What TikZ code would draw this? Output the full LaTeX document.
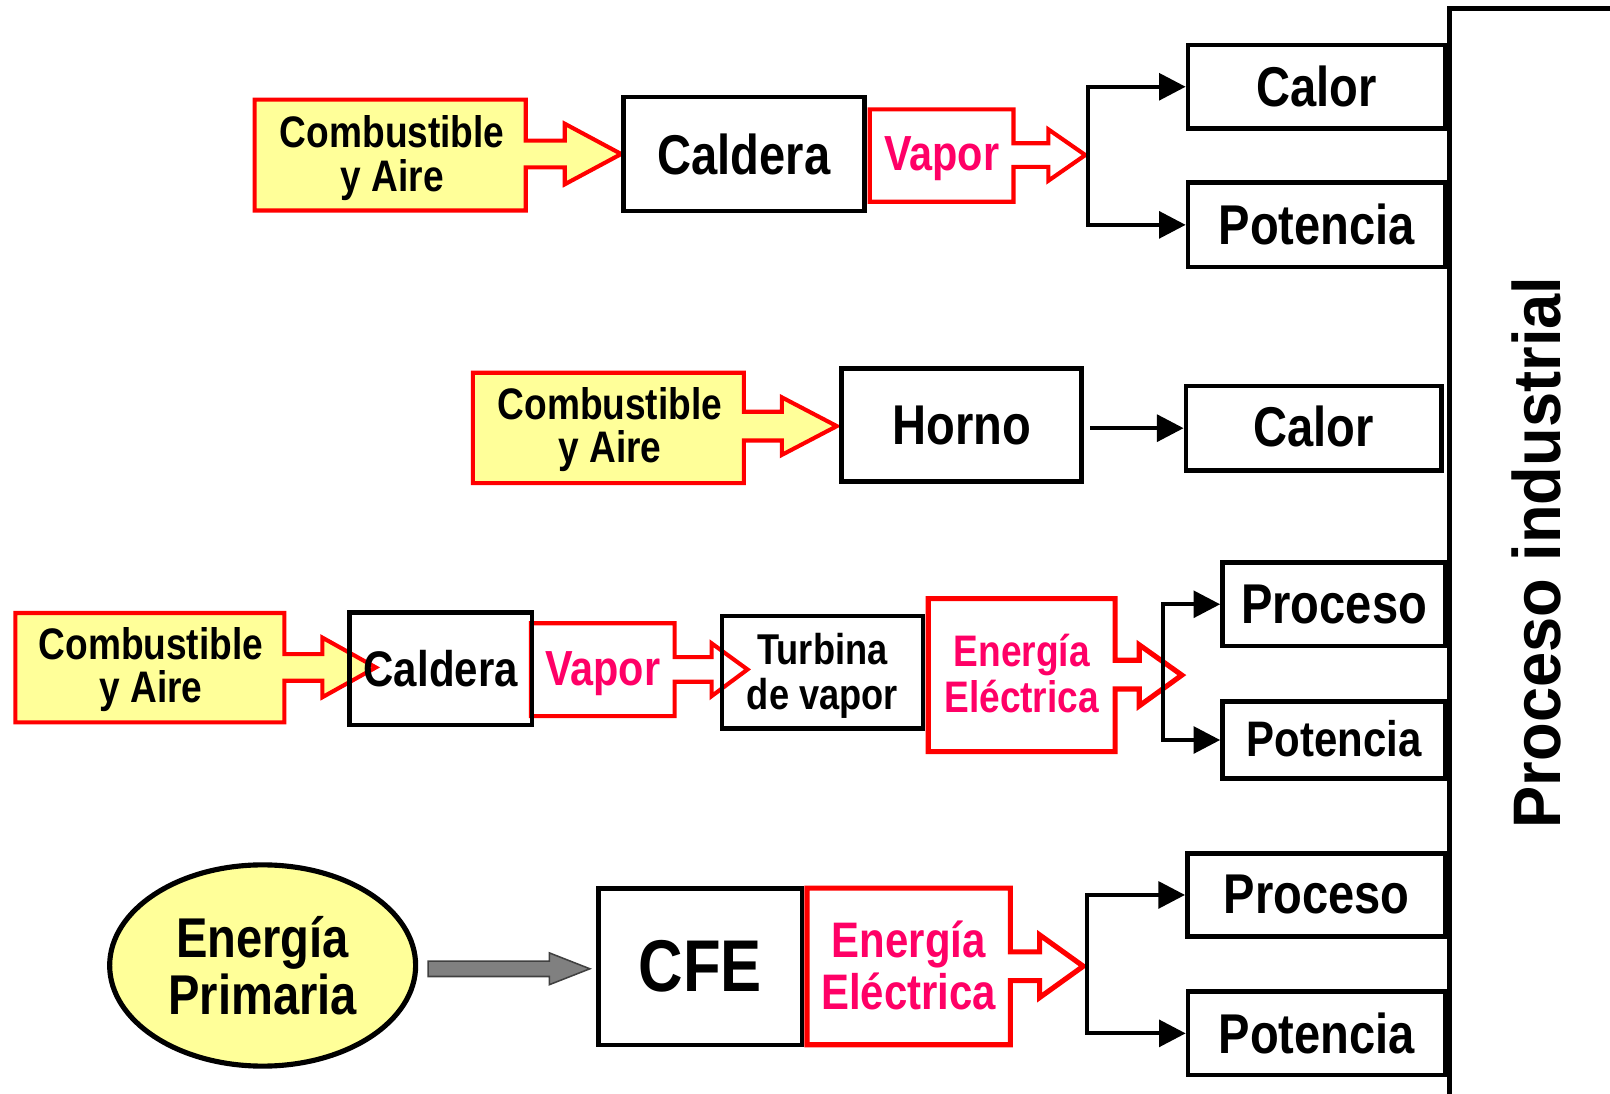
\documentclass[tikz,border=0pt]{standalone}
\usepackage{fontspec}
\newfontfamily\cf{Liberation Sans}[FakeStretch=0.84]
\newfontfamily\cfw{Liberation Sans}[FakeStretch=0.94]
\usetikzlibrary{arrows.meta,shapes.geometric}
\definecolor{cyel}{HTML}{FFFF99}
\definecolor{cred}{HTML}{FF0000}
\definecolor{cpink}{HTML}{FF0066}
\definecolor{cgray}{HTML}{808080}
\tikzset{
  bx/.style={draw=black, line width=4.5pt, rectangle, inner sep=0pt, align=center},
  txt/.style={inner sep=0pt, align=center},
  yshape/.style={draw=cred, fill=cyel, line width=4pt, line join=miter},
  rshape/.style={draw=cred, fill=white, line width=4pt, line join=miter},
  rshapeb/.style={draw=cred, fill=white, line width=5pt, line join=miter},
  conn/.style={draw=black, line width=4pt, -{Triangle[length=26pt,width=26pt]}},
  fbig/.style={font=\cf\bfseries\fontsize{54.6pt}{56pt}\selectfont},
  fcomb/.style={font=\cf\bfseries\fontsize{43pt}{42pt}\selectfont},
  fvap/.style={font=\cf\bfseries\fontsize{48pt}{49pt}\selectfont},
  fmid/.style={font=\cf\bfseries\fontsize{48.6pt}{51pt}\selectfont},
  fturb/.style={font=\cf\bfseries\fontsize{42pt}{44pt}\selectfont},
  fee/.style={font=\cf\bfseries\fontsize{43pt}{44pt}\selectfont},
  fep/.style={font=\cf\bfseries\fontsize{54.6pt}{55.5pt}\selectfont},
  fcfe/.style={font=\cf\bfseries\fontsize{71.4pt}{72pt}\selectfont},
  fpi/.style={font=\cfw\bfseries\fontsize{65.5pt}{66pt}\selectfont},
}
\begin{document}
\begin{tikzpicture}[x=1pt,y=-1pt]
\useasboundingbox (0,0) rectangle (1568,1065);

% ---------------- Row 1 ----------------
\draw[yshape] (248,97)--(512,97)--(512,137)--(550,137)--(550,120.5)--(605,150)--(550,179.5)--(550,163)--(512,163)--(512,205)--(248,205)--cycle;
\node[txt, fcomb] (comb1) at (382,154) {Combustible\\y Aire};
\node[bx, fbig, minimum width=235pt, minimum height=111pt] (cald1) at (724.5,150) {Caldera};
\draw[rshape] (847,106.5)--(987,106.5)--(987,139.5)--(1021,139.5)--(1021,126)--(1057,151)--(1021,176)--(1021,162.5)--(987,162.5)--(987,196.5)--(847,196.5)--cycle;
\node[txt, fvap, text=cpink] (vap1) at (917,155) {Vapor};
\node[bx, fbig, minimum width=251pt, minimum height=81pt] (calor1) at (1282.5,84.5) {Calor};
\node[bx, fbig, minimum width=251pt, minimum height=82pt] (pot1) at (1282.5,219) {Potencia};
\coordinate (t1) at (1060,151);
\draw[conn] (t1) |- (calor1.west);
\draw[conn] (t1) |- (pot1.west);

% ---------------- Row 2 ----------------
\draw[yshape] (460.5,363)--(724.5,363)--(724.5,401)--(761.5,401)--(761.5,387)--(815,415)--(761.5,443)--(761.5,429)--(724.5,429)--(724.5,470.5)--(460.5,470.5)--cycle;
\node[txt, fcomb] (comb2) at (594,418) {Combustible\\y Aire};
\node[bx, fbig, minimum width=234pt, minimum height=110pt] (horno) at (936.5,414) {Horno};
\node[bx, fbig, minimum width=249pt, minimum height=82pt] (calor2) at (1279.5,417) {};
\node[txt, fbig] (calor2t) at (1279.5,415) {Calor};
\draw[conn] ([xshift=6pt]horno.east |- calor2.west) -- (calor2.west);

% ---------------- Row 3 ----------------
\draw[rshape] (517,607)--(657,607)--(657,640)--(693,640)--(693,626.5)--(728,652)--(693,678)--(693,664)--(657,664)--(657,697.5)--(517,697.5)--cycle;
\draw[yshape] (15,597)--(277,597)--(277,637)--(314,637)--(314,621)--(366,650)--(314,679)--(314,663)--(277,663)--(277,703.5)--(15,703.5)--cycle;
\node[txt, fcomb] (comb3) at (147,652) {Combustible\\y Aire};
\node[bx, font=\cf\bfseries\fontsize{48.7pt}{50pt}\selectfont, minimum width=177.6pt, minimum height=109.3pt] (cald3) at (429.2,651.3) {Caldera};
\node[txt, fvap, text=cpink] (vap3) at (587,656) {Vapor};
\node[bx, minimum width=196pt, minimum height=109.3pt] (turb) at (801,654.7) {};
\node[txt, fturb] (turbt) at (801,658.5) {Turbina\\de vapor};
\draw[rshapeb] (904,583)--(1086,583)--(1086,643)--(1109.5,643)--(1109.5,628)--(1151,657.5)--(1109.5,687.5)--(1109.5,671)--(1086,671)--(1086,732)--(904,732)--cycle;
\node[txt, fee, text=cpink] (ee3) at (995,656) {Energía\\Eléctrica};
\node[bx, fbig, minimum width=217.4pt, minimum height=81pt] (proc3) at (1299.3,588.5) {Proceso};
\node[bx, fmid, minimum width=217.4pt, minimum height=74.6pt] (pot3) at (1299.3,720.7) {};
\node[txt, fmid] (pot3t) at (1299.3,719.5) {Potencia};
\coordinate (t3) at (1132.7,657);
\draw[conn] (t3) |- (proc3.west);
\draw[conn] (t3) |- (pot3.west);

% ---------------- Row 4 ----------------
\node[ellipse, draw=black, fill=cyel, line width=5pt, inner sep=0pt, minimum width=298pt, minimum height=196pt, fep, align=center] (ep) at (255.8,940.3) {Energía\\Primaria};
\draw[draw=black!75, fill=cgray, line width=1.5pt, line join=miter] (417,936)--(535,936)--(535,928)--(574.5,943.5)--(535,959)--(535,951)--(417,951)--cycle;
\node[bx, fcfe, minimum width=198pt, minimum height=152.7pt] (cfe) at (682,941.4) {CFE};
\draw[rshapeb] (786,865)--(984,865)--(984,927)--(1012.5,927)--(1012.5,910.5)--(1055,941)--(1012.5,971.5)--(1012.5,955)--(984,955)--(984,1017.5)--(786,1017.5)--cycle;
\node[txt, fmid, text=cpink] (ee4) at (885,940) {Energía\\Eléctrica};
\node[bx, fbig, minimum width=251.7pt, minimum height=81.2pt] (proc4) at (1282.2,871.6) {Proceso};
\node[bx, fbig, minimum width=251pt, minimum height=81pt] (pot4) at (1282.5,1006.4) {Potencia};
\coordinate (t4) at (1059,941);
\draw[conn] (t4) |- (proc4.west);
\draw[conn] (t4) |- (pot4.west);

% ---------------- Proceso industrial ----------------
\node[draw=black, line width=5pt, rectangle, inner sep=0pt, minimum width=220pt, minimum height=1100pt, anchor=north west] (pibox) at (1409,6) {};
\node[txt, fpi, rotate=90] (pi) at (1496,538) {Proceso industrial};
\end{tikzpicture}
\end{document}
